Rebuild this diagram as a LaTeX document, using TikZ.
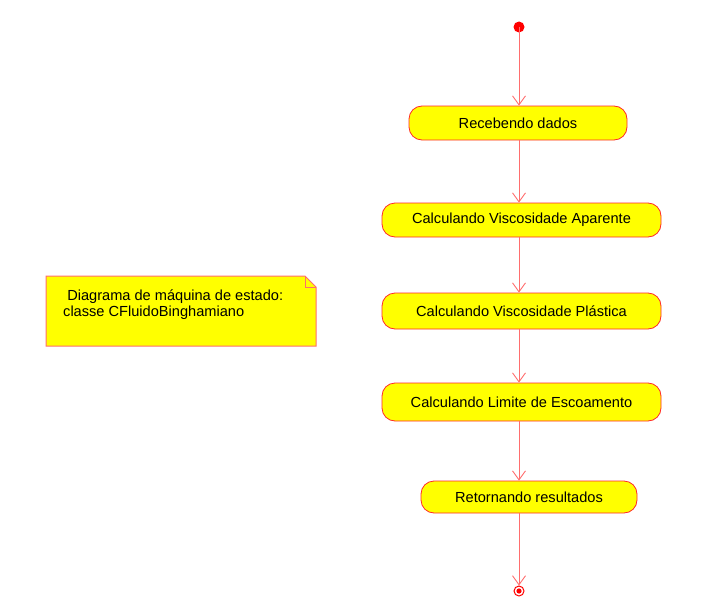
\documentclass[tikz,border=0pt]{standalone}
\usepackage{fontspec}
\setmainfont{Liberation Sans}
\usetikzlibrary{arrows.meta}
\definecolor{stroke}{RGB}{255,40,40}
\definecolor{lineclr}{RGB}{255,110,110}
\definecolor{fillyel}{RGB}{255,255,0}
\tikzset{
  x=1pt,y=-1pt,
  state/.style={draw=stroke, fill=fillyel, rounded corners=13pt, minimum height=34pt, inner sep=0pt, font=\fontsize{14.6}{16}\selectfont, line width=0.8pt},
  flow/.style={draw=lineclr, line width=1pt, -{Straight Barb[length=9pt,width=13pt,line width=0.9pt]}},
}
\begin{document}
\begin{tikzpicture}
\useasboundingbox (0,0) rectangle (715,610);
\fill[red] (519,27) circle (5.5);
\coordinate (init) at (519,27);
\node[state, minimum width=218pt] (rec) at (518,123) {Recebendo dados};
\node[state, minimum width=279pt] (vap) at (521.5,220) {Calculando Viscosidade Aparente};
\node[state, minimum width=279pt, minimum height=36pt] (vpl) at (521.5,311) {Calculando Viscosidade Plástica};
\node[state, minimum width=279pt, minimum height=38pt] (lim) at (521.5,402) {Calculando Limite de Escoamento};
\node[state, minimum width=216pt, minimum height=32pt] (ret) at (529,497) {Retornando resultados};
\node[circle, draw=red, line width=1pt, minimum size=10pt, inner sep=0pt] (fin) at (519,591) {};
\fill[red] (fin) circle (2.6);
\draw[flow] (init) -- (rec.north -| init);
\draw[flow] (rec.south -| init) -- (vap.north -| init);
\draw[flow] (vap.south -| init) -- (vpl.north -| init);
\draw[flow] (vpl.south -| init) -- (lim.north -| init);
\draw[flow] (lim.south -| init) -- (ret.north -| init);
\draw[flow] (ret.south -| init) -- (fin.north);
% note
\draw[draw=lineclr, fill=fillyel, line width=1pt] (46,276) -- (305,276) -- (316,287) -- (316,346) -- (46,346) -- cycle;
\draw[draw=lineclr, line width=0.8pt] (305,276) -- (305,287) -- (316,287);
\node[anchor=north west, align=left, inner sep=0pt, font=\fontsize{14.6}{16}\selectfont] (note) at (63,290) {\ Diagrama de máquina de estado:\\classe CFluidoBinghamiano};
\end{tikzpicture}
\end{document}
